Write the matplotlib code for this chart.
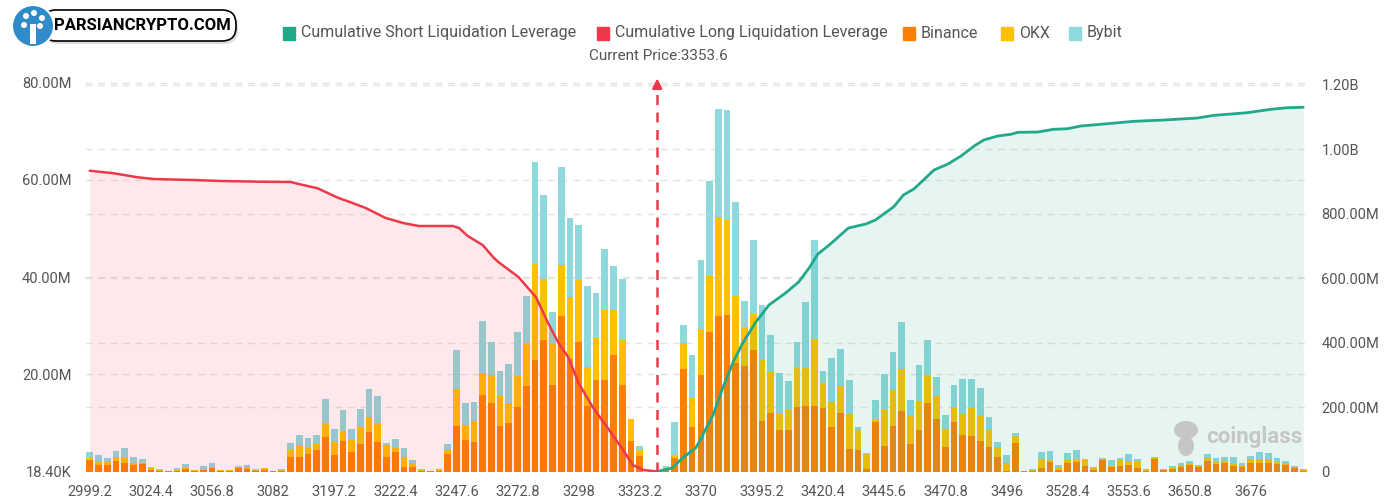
import numpy as np
import matplotlib
matplotlib.use("Agg")
import matplotlib.pyplot as plt
from matplotlib.patches import Rectangle, FancyBboxPatch, Circle, Ellipse

plt.rcParams['font.family'] = ['Roboto', 'DejaVu Sans']

# liquidation leverage per price bucket, in millions (Binance / OKX / Bybit)
binance = [2.3, 1.4, 1.3, 2.2, 1.7, 1.25, 1.5, 0.4, 0.2, 0.05,
           0.15, 0.55, 0.05, 0.35, 0.7, 0.05, 0.1, 0.7, 0.5, 0.15,
           0.3, 0.02, 0.15, 2.9, 3.0, 3.7, 4.4, 7.1, 3.4, 6.3,
           4.1, 5.6, 8.2, 6.0, 3.0, 4.1, 0.9, 0.9, 0.1, 0.05,
           0.2, 3.7, 9.3, 6.5, 6.1, 15.7, 14.0, 9.3, 10.0, 13.3,
           17.5, 23.0, 27.1, 17.7, 32.0, 23.1, 26.7, 13.4, 18.9, 18.9,
           23.9, 17.8, 6.3, 3.2, 0, 0, 0.3, 2.8, 21.1, 9.2,
           19.8, 28.7, 32.0, 32.2, 22.3, 21.7, 24.9, 10.4, 12.1, 8.6,
           8.5, 13.3, 13.5, 13.5, 13.0, 9.1, 12.1, 4.6, 4.4, 0.6,
           10.2, 5.3, 9.3, 12.4, 5.7, 8.5, 14.1, 10.8, 5.1, 10.2,
           7.5, 7.3, 6.3, 5.1, 2.9, 0.2, 5.8, 0.05, 0.2, 0.8,
           1.9, 0.4, 1.7, 1.9, 1.2, 0.4, 2.3, 0.85, 1.1, 1.4,
           0.65, 0.1, 2.5, 0.3, 0.6, 0.85, 1.4, 0.85, 2.1, 1.5,
           1.7, 1.1, 1.0, 1.8, 1.8, 1.7, 1.5, 1.3, 0.65, 0.2]
okx = [0.5, 0.65, 0.7, 0.8, 1.2, 0.6, 0.15, 0.3, 0.2, 0.1,
       0.2, 0.35, 0.2, 0.2, 0.3, 0.25, 0.2, 0.2, 0.35, 0.15,
       0.35, 0.02, 0.2, 1.5, 2.5, 1.3, 1.2, 2.8, 2.7, 2.1,
       2.3, 3.5, 3.0, 3.9, 2.4, 0.7, 2.1, 0.9, 0.2, 0.05,
       0.25, 0.7, 7.6, 3.0, 4.3, 4.6, 5.9, 6.2, 4.0, 6.3,
       8.9, 19.7, 12.5, 8.6, 10.5, 12.9, 12.7, 8.2, 8.6, 14.4,
       9.4, 9.3, 4.4, 1.3, 0, 0, 0.4, 0.6, 5.3, 6.0,
       9.6, 11.5, 20.3, 19.5, 13.9, 7.8, 7.4, 12.5, 8.4, 3.5,
       4.1, 8.2, 7.7, 13.8, 5.3, 5.1, 5.5, 7.2, 4.2, 2.9,
       0.4, 7.3, 7.4, 8.7, 5.7, 6.0, 5.7, 4.7, 3.6, 3.1,
       4.4, 5.8, 5.2, 3.5, 2.0, 1.6, 1.6, 0.1, 0.2, 1.8,
       0.5, 0.4, 0.7, 0.5, 1.2, 0.5, 0.2, 0.3, 1.3, 0.8,
       1.45, 0.35, 0.3, 0.1, 0.2, 0.5, 0.15, 0.2, 0.6, 0.5,
       0.5, 0.4, 0.3, 0.7, 0.7, 0.8, 0.4, 0.2, 0.2, 0.3]
bybit = [1.2, 1.25, 0.8, 1.3, 1.9, 1.05, 0.85, 0.3, 0.15, 0.05,
         0.4, 0.55, 0.05, 0.5, 0.65, 0.05, 0.05, 0.3, 0.4, 0.25,
         0.15, 0.01, 0.2, 1.4, 2.1, 1.8, 2.0, 5.1, 2.6, 4.2,
         2.3, 3.7, 5.7, 5.6, 0.4, 1.9, 1.8, 0.6, 0.2, 0.0,
         0.05, 1.2, 8.0, 4.5, 3.9, 10.6, 6.7, 5.1, 8.2, 9.1,
         9.8, 20.9, 17.3, 6.5, 20.2, 16.1, 11.4, 16.5, 9.2, 12.5,
         8.9, 12.5, 0.2, 0.7, 0, 0, 0.5, 6.8, 3.8, 8.7,
         14.2, 19.5, 22.3, 22.7, 19.3, 5.5, 15.3, 11.4, 7.6, 8.1,
         6.0, 5.1, 13.6, 20.4, 2.3, 9.2, 7.5, 7.0, 0.6, 0.4,
         4.1, 7.5, 7.9, 9.6, 3.3, 7.5, 7.2, 3.9, 2.9, 4.4,
         7.1, 5.9, 5.7, 2.6, 1.1, 1.5, 0.6, 0.05, 0.1, 1.5,
         1.8, 0.5, 1.5, 2.1, 0.2, 0.1, 0.3, 1.2, 0.4, 1.4,
         0.4, 0.05, 0.1, 0.05, 0.3, 0.45, 0.55, 0.25, 1.0, 0.8,
         0.8, 1.5, 0.5, 0.7, 1.6, 1.4, 0.9, 0.6, 0.2, 0.1]

# price labels shown on the axis (every 7th bucket)
tick_labels = ['2999.2', '3024.4', '3056.8', '3082', '3197.2', '3222.4', '3247.6',
               '3272.8', '3298', '3323.2', '3370', '3395.2', '3420.4', '3445.6',
               '3470.8', '3496', '3528.4', '3553.6', '3650.8', '3676']
current_price = '3353.6'
current_idx = 65

# cumulative curves (bucket position, millions)
long_pos = [0, 2.75, 5.5, 7.33, 11.9, 15.0, 19.6, 23.0, 24.1, 26.1, 28.5, 30.1,
            31.6, 33.9, 35.9, 37.7, 41.6, 42.3, 43.3, 45.0, 46.3, 46.8, 49.1,
            51.1, 52.5, 53.7, 54.8, 56.0, 57.6, 59.5, 61.1, 62.2, 63.4, 65]
long_cum = [932.7, 924.7, 912.3, 907.0, 903.9, 900.8, 898.6, 897.7, 890.5, 878.1,
            848.1, 832.6, 817.1, 786.1, 770.5, 761.2, 761.2, 755.0, 730.2, 702.3,
            662.0, 649.6, 603.1, 541.1, 460.5, 398.5, 355.0, 274.4, 200.0, 128.7,
            66.7, 20.2, 4.7, 0]
short_pos = [65, 66.7, 67.9, 69.4, 69.8, 71.4, 72.5, 73.7, 74.8, 76.3, 77.8, 79.7,
             81.2, 82.4, 83.4, 84.7, 86.9, 88.9, 90.0, 92.1, 93.2, 94.4, 95.5,
             96.7, 98.3, 99.8, 101.3, 102.4, 104.0, 105.5, 106.3, 108.6, 110.4,
             112.0, 113.5, 115.8, 119.6, 123.0, 126.9, 128.8, 132.6, 135.3,
             137.2, 139.0]
short_cum = [0, 10.9, 41.9, 72.9, 91.5, 175.2, 258.9, 339.5, 398.5, 463.6, 516.3,
             553.5, 587.6, 631.0, 674.4, 702.3, 755.0, 767.5, 779.9, 821.1, 857.4,
             876.0, 903.9, 934.9, 953.5, 978.3, 1009.3, 1027.9, 1040.3, 1045.6,
             1051.8, 1052.7, 1061.1, 1062.9, 1071.3, 1076.6, 1085.9, 1089.9,
             1096.1, 1104.5, 1112.6, 1123.1, 1128.1, 1129.3]

C_BIN, C_OKX, C_BYB = '#FF8000', '#FFC000', '#8DD9DC'
C_LONG, C_SHORT = '#F0384A', '#22A88A'
TXT = '#555555'

W, H = 1384, 499
fig = plt.figure(figsize=(W / 100, H / 100), dpi=100)
ax = fig.add_axes([85.4 / W, 1 - 471.5 / H, 1222.2 / W, 401.5 / H])
ax2 = ax.twinx()

lmax, rmax = 82.6, 1245.0
ax.set_ylim(0, lmax)
ax2.set_ylim(0, rmax)
ax.set_xlim(-0.5, len(binance) - 0.5)

x = np.arange(len(binance))
b = np.array(binance)
o = np.array(okx)
y = np.array(bybit)
ax.bar(x, b, width=0.77, color=C_BIN, zorder=2)
ax.bar(x, o, bottom=b, width=0.77, color=C_OKX, zorder=2)
ax.bar(x, y, bottom=b + o, width=0.77, color=C_BYB, zorder=2)

# grid lines for both scales, behind everything
for v in [20, 40, 60, 80]:
    ax.axhline(v, color='#e4e4e4', lw=1, ls=(0, (5, 4)), zorder=0)
for v in [200, 400, 600, 800, 1000, 1200]:
    ax.axhline(v * lmax / rmax, color='#e4e4e4', lw=1, ls=(0, (5, 4)), zorder=0)

ax2.fill_between(long_pos, long_cum, 0, color=C_LONG, alpha=0.11, lw=0)
ax2.fill_between(short_pos, short_cum, 0, color=C_SHORT, alpha=0.11, lw=0)
ax2.plot(long_pos, long_cum, color=C_LONG, lw=1.8, solid_capstyle='round')
ax2.plot(short_pos, short_cum, color=C_SHORT, lw=2.0, solid_capstyle='round')

# current price marker
ax2.plot([current_idx, current_idx], [0, 1190], color=C_LONG, lw=1.8,
         ls=(0, (4, 3)))
ax2.annotate('', xy=(current_idx, 1228), xytext=(current_idx, 1180),
             arrowprops=dict(arrowstyle='-|>', color=C_LONG, lw=1.8,
                             mutation_scale=14))
fig.text(658 / W, 1 - 56 / H, 'Current Price:' + current_price, color=TXT,
         fontsize=11, ha='center', va='center')

ax.set_yticks([0, 20, 40, 60, 80])
ax.set_yticklabels(['18.40K', '20.00M', '40.00M', '60.00M', '80.00M'])
ax2.set_yticks([0, 200, 400, 600, 800, 1000, 1200])
ax2.set_yticklabels(['0', '200.00M', '400.00M', '600.00M', '800.00M', '1.00B', '1.20B'])
ax.set_xticks(x[::7])
ax.set_xticklabels(tick_labels)
for a in (ax, ax2):
    a.tick_params(length=0, labelsize=10.5, labelcolor=TXT)
    for s in a.spines.values():
        s.set_visible(False)
ax.tick_params(axis='y', pad=10)
ax2.tick_params(axis='y', pad=10)
ax.tick_params(axis='x', pad=10)
ax2.patch.set_visible(False)

# legend drawn by hand along the top
legend = [('Cumulative Short Liquidation Leverage', C_SHORT, 283),
          ('Cumulative Long Liquidation Leverage', C_LONG, 597),
          ('Binance', C_BIN, 903), ('OKX', C_OKX, 1001), ('Bybit', C_BYB, 1069)]
for label, col, px in legend:
    fig.patches.append(Rectangle((px / W, 1 - 40 / H), 12 / W, 13 / H,
                                 transform=fig.transFigure, color=col))
    fig.text((px + 18) / W, 1 - 33 / H, label, color=TXT, fontsize=11.5,
             va='center', ha='left')

# logo top left, drawn in a pixel-space overlay
lg = fig.add_axes([0, 1 - 56 / H, 250 / W, 56 / H])
lg.set_xlim(0, 250)
lg.set_ylim(56, 0)
lg.axis('off')
lg.add_patch(FancyBboxPatch((44, 13), 194, 31, boxstyle='round,pad=0,rounding_size=14',
                            fc='#c8c8c8', ec='none', alpha=0.6))
lg.add_patch(FancyBboxPatch((42, 10), 194, 31, boxstyle='round,pad=0,rounding_size=14',
                            fc='white', ec='black', lw=1.2))
lg.add_patch(Circle((33, 26), 21, fc='#2F8CC9', ec='white', lw=1.5))
for cx, cy in [(26, 16), (34, 13), (42, 18), (24, 25), (40, 26)]:
    lg.add_patch(Circle((cx, cy), 3, fc='white', ec='none'))
lg.add_patch(Rectangle((30, 24), 6, 20, fc='white', ec='none'))
lg.text(142, 26, 'PARSIANCRYPTO.COM', fontsize=12, fontweight='bold',
        color='black', ha='center', va='center')

# watermark
wm = fig.add_axes([1160 / W, 1 - 465 / H, 150 / W, 50 / H])
wm.set_xlim(1160, 1310)
wm.set_ylim(465, 415)
wm.axis('off')
wm.add_patch(Ellipse((1186, 430), 24, 18, fc='#c6c6c6', lw=0))
wm.add_patch(Ellipse((1186, 446), 16, 20, fc='#c6c6c6', lw=0))
wm.text(1254, 437, 'coinglass', fontsize=16, fontweight='bold',
        color='#c6c6c6', ha='center', va='center')

fig.savefig('out.png', dpi=100)
